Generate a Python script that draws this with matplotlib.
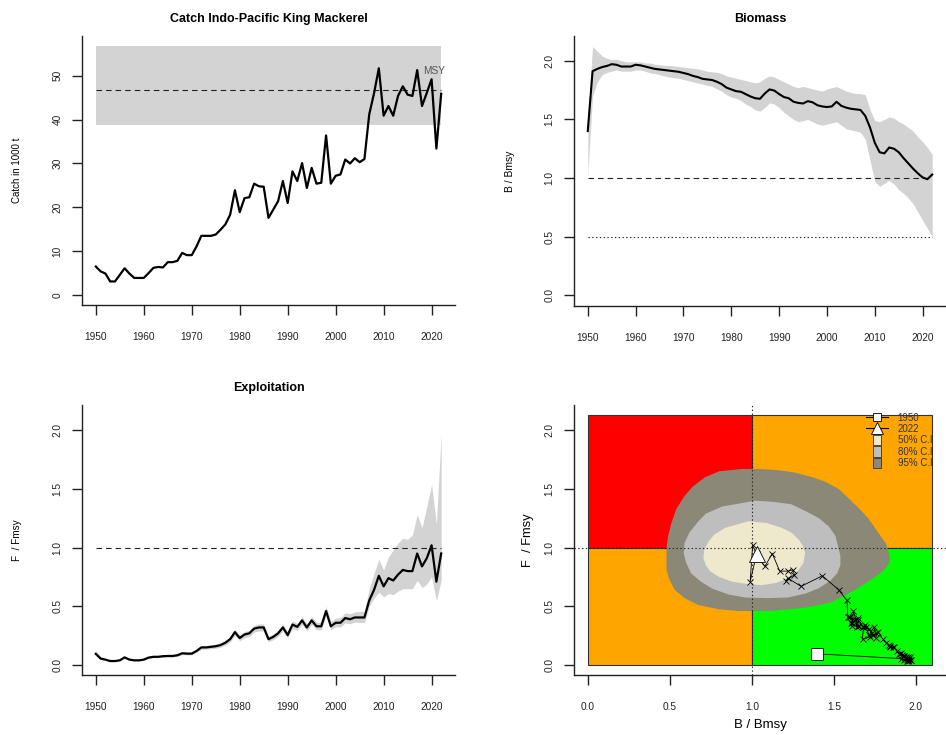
import matplotlib
matplotlib.use('Agg')
import matplotlib.pyplot as plt
from matplotlib.lines import Line2D
from matplotlib.patches import Patch, Rectangle
from matplotlib.legend_handler import HandlerPatch

plt.rcParams['font.family'] = ['Liberation Sans', 'DejaVu Sans']

# ---------------- data ----------------
years = list(range(1950, 2023))

catch = [6.5, 5.4, 4.9, 3.1, 3.1, 4.6, 6.1, 4.9, 3.9, 3.9,
         3.9, 5.0, 6.2, 6.4, 6.3, 7.5, 7.5, 7.8, 9.6, 9.1,
         9.1, 11.1, 13.5, 13.5, 13.5, 13.8, 14.9, 16.1, 18.3, 23.9,
         18.9, 22.1, 22.3, 25.4, 24.8, 24.7, 17.6, 19.5, 21.4, 26.0,
         21.0, 28.2, 26.0, 30.1, 24.4, 29.0, 25.4, 25.6, 36.4, 25.4,
         27.2, 27.5, 30.9, 30.0, 31.2, 30.3, 31.0, 41.2, 46.0, 51.7,
         40.9, 43.1, 40.9, 45.4, 47.6, 45.7, 45.4, 51.3, 43.1, 46.1,
         49.2, 33.4, 45.9]

msy = 46.8
msy_lo = 38.8
msy_hi = 56.8

bbmsy = [1.40, 1.91, 1.93, 1.945, 1.955, 1.97, 1.965, 1.95, 1.95, 1.95,
         1.965, 1.96, 1.95, 1.94, 1.93, 1.925, 1.92, 1.915, 1.91, 1.905,
         1.895, 1.885, 1.87, 1.86, 1.845, 1.84, 1.835, 1.82, 1.80, 1.77,
         1.755, 1.74, 1.735, 1.715, 1.695, 1.68, 1.675, 1.72, 1.755, 1.745,
         1.715, 1.69, 1.68, 1.65, 1.64, 1.635, 1.655, 1.645, 1.62, 1.61,
         1.605, 1.61, 1.65, 1.615, 1.60, 1.59, 1.585, 1.58, 1.53, 1.43,
         1.30, 1.22, 1.21, 1.26, 1.25, 1.22, 1.17, 1.125, 1.08, 1.04,
         1.005, 0.99, 1.03]

bbmsy_hi = [1.50, 2.12, 2.08, 2.04, 2.02, 2.01, 2.01, 2.00, 1.99, 1.99,
            1.99, 1.99, 1.98, 1.98, 1.97, 1.965, 1.96, 1.96, 1.955, 1.95,
            1.945, 1.94, 1.935, 1.93, 1.92, 1.91, 1.905, 1.90, 1.89, 1.87,
            1.86, 1.85, 1.84, 1.83, 1.82, 1.81, 1.82, 1.85, 1.87, 1.86,
            1.84, 1.82, 1.80, 1.78, 1.77, 1.78, 1.77, 1.76, 1.75, 1.74,
            1.76, 1.77, 1.78, 1.76, 1.74, 1.73, 1.72, 1.72, 1.71, 1.58,
            1.49, 1.48, 1.50, 1.52, 1.51, 1.48, 1.46, 1.43, 1.40, 1.35,
            1.31, 1.26, 1.20]

bbmsy_lo = [1.02, 1.70, 1.82, 1.88, 1.90, 1.91, 1.92, 1.91, 1.91, 1.91,
            1.92, 1.92, 1.91, 1.895, 1.89, 1.88, 1.87, 1.86, 1.855, 1.85,
            1.84, 1.83, 1.82, 1.81, 1.80, 1.79, 1.78, 1.76, 1.74, 1.71,
            1.69, 1.68, 1.66, 1.63, 1.61, 1.58, 1.57, 1.60, 1.64, 1.63,
            1.60, 1.56, 1.53, 1.50, 1.48, 1.49, 1.50, 1.48, 1.46, 1.45,
            1.46, 1.47, 1.48, 1.45, 1.42, 1.41, 1.40, 1.39, 1.33, 1.15,
            0.97, 0.93, 0.955, 0.98, 0.95, 0.90, 0.87, 0.83, 0.78, 0.71,
            0.64, 0.57, 0.50]

ffmsy = [0.095, 0.055, 0.046, 0.034, 0.034, 0.04, 0.065, 0.046, 0.04, 0.04,
         0.046, 0.063, 0.07, 0.07, 0.075, 0.077, 0.077, 0.083, 0.10, 0.097,
         0.097, 0.12, 0.15, 0.15, 0.155, 0.16, 0.17, 0.19, 0.22, 0.28,
         0.23, 0.26, 0.27, 0.31, 0.32, 0.32, 0.22, 0.24, 0.27, 0.32,
         0.255, 0.345, 0.325, 0.38, 0.32, 0.38, 0.33, 0.33, 0.46, 0.33,
         0.36, 0.36, 0.40, 0.39, 0.405, 0.405, 0.405, 0.55, 0.64, 0.76,
         0.67, 0.74, 0.72, 0.77, 0.81, 0.80, 0.80, 0.95, 0.84, 0.91,
         1.02, 0.71, 0.95]

ffmsy_hi = [0.125, 0.07, 0.056, 0.042, 0.042, 0.048, 0.075, 0.055, 0.048, 0.048,
            0.055, 0.072, 0.08, 0.08, 0.086, 0.088, 0.088, 0.095, 0.113, 0.11,
            0.11, 0.135, 0.166, 0.166, 0.172, 0.178, 0.19, 0.21, 0.243, 0.305,
            0.255, 0.285, 0.297, 0.338, 0.35, 0.35, 0.245, 0.265, 0.297, 0.35,
            0.282, 0.375, 0.355, 0.412, 0.352, 0.413, 0.363, 0.365, 0.50, 0.37,
            0.40, 0.405, 0.445, 0.437, 0.453, 0.455, 0.458, 0.65, 0.78, 0.90,
            0.81, 0.92, 0.98, 1.04, 1.08, 1.07, 1.11, 1.28, 1.17, 1.35,
            1.54, 1.20, 1.97]

ffmsy_lo = [0.08, 0.048, 0.040, 0.029, 0.029, 0.034, 0.058, 0.040, 0.035, 0.035,
            0.040, 0.056, 0.062, 0.062, 0.066, 0.068, 0.068, 0.074, 0.089, 0.086,
            0.086, 0.107, 0.135, 0.135, 0.139, 0.143, 0.152, 0.17, 0.197, 0.252,
            0.206, 0.234, 0.243, 0.28, 0.29, 0.29, 0.198, 0.216, 0.243, 0.29,
            0.23, 0.312, 0.294, 0.345, 0.29, 0.345, 0.30, 0.298, 0.42, 0.30,
            0.325, 0.325, 0.36, 0.352, 0.365, 0.363, 0.36, 0.50, 0.57, 0.62,
            0.58, 0.61, 0.60, 0.63, 0.65, 0.65, 0.65, 0.72, 0.66, 0.69,
            0.75, 0.55, 0.72]

# Kobe confidence-region boundaries (B/Bmsy, F/Fmsy)
ci95_b = [0.94, 0.80, 0.715, 0.64, 0.59, 0.54, 0.51, 0.49, 0.48, 0.48, 0.48, 0.50,
          0.53, 0.59, 0.675, 0.80, 0.92, 1.12, 1.33, 1.48, 1.63, 1.72, 1.80, 1.84,
          1.84, 1.82, 1.76, 1.71, 1.65, 1.53, 1.45, 1.37, 1.26, 1.16, 1.05]
ci95_f = [1.67, 1.65, 1.60, 1.52, 1.44, 1.33, 1.21, 1.10, 1.00, 0.90, 0.81, 0.72,
          0.64, 0.57, 0.51, 0.475, 0.46, 0.46, 0.49, 0.53, 0.64, 0.72, 0.80, 0.87,
          0.93, 1.03, 1.15, 1.25, 1.34, 1.50, 1.56, 1.60, 1.64, 1.66, 1.67]

ci80_b = [1.02, 0.82, 0.72, 0.675, 0.62, 0.59, 0.585, 0.60, 0.63, 0.69, 0.76, 0.86,
          0.96, 1.10, 1.22, 1.33, 1.41, 1.48, 1.52, 1.54, 1.54, 1.51, 1.47, 1.41,
          1.33, 1.24, 1.13]
ci80_f = [1.40, 1.35, 1.29, 1.225, 1.13, 1.04, 0.95, 0.87, 0.78, 0.71, 0.65, 0.60,
          0.575, 0.57, 0.575, 0.61, 0.655, 0.72, 0.78, 0.85, 0.93, 1.10, 1.18, 1.25,
          1.31, 1.37, 1.39]

ci50_b = [0.98, 0.84, 0.77, 0.735, 0.71, 0.705, 0.72, 0.745, 0.80, 0.88, 0.97, 1.06,
          1.15, 1.22, 1.28, 1.315, 1.325, 1.31, 1.285, 1.24, 1.18, 1.09]
ci50_f = [1.225, 1.17, 1.11, 1.05, 0.98, 0.91, 0.85, 0.80, 0.75, 0.71, 0.69, 0.68,
          0.70, 0.74, 0.80, 0.87, 0.955, 1.02, 1.07, 1.13, 1.17, 1.21]

kobe_bmax = 2.1
kobe_fmax = 2.13

# ---------------- figure ----------------
fig = plt.figure(figsize=(9.46, 7.35), dpi=100)
W, H = 946.0, 735.0


def add_ax(l, r, t, b):
    return fig.add_axes([l / W, (H - b) / H, (r - l) / W, (b - t) / H])


ax1 = add_ax(82, 455, 36, 305)
ax2 = add_ax(574, 946, 36, 306)
ax3 = add_ax(82, 455, 405, 675)
ax4 = add_ax(574, 946, 405, 675)

AXC = '#222222'


def style(ax):
    for s in ['top', 'right']:
        ax.spines[s].set_visible(False)
    for s in ['left', 'bottom']:
        ax.spines[s].set_linewidth(1.0)
        ax.spines[s].set_color(AXC)
    ax.tick_params(direction='out', length=7, width=1.0, colors=AXC, labelsize=7.3)
    ax.tick_params(axis='x', pad=12.5)
    ax.tick_params(axis='y', pad=7, labelrotation=90)
    for lab in ax.get_yticklabels():
        lab.set_va('center')


xlim_t = (1947.12, 2024.88)
yr_ticks = [1950, 1960, 1970, 1980, 1990, 2000, 2010, 2020]
dash = (0, (5, 3.6))
dots = (0, (1.2, 2.2))

# --- Catch ---
ax1.fill_between([years[0], years[-1]], [msy_lo, msy_lo], [msy_hi, msy_hi],
                 color='#D3D3D3', lw=0)
ax1.plot([years[0], years[-1]], [msy, msy], color='#222222', lw=0.8, linestyle=dash)
ax1.plot(years, catch, color='black', lw=1.6)
ax1.text(2020.5, 51.1, 'MSY', fontsize=7.3, color='#555555', ha='center', va='center')
ax1.set_xlim(*xlim_t)
ax1.set_ylim(-2.27, 59.07)
ax1.set_xticks(yr_ticks)
ax1.set_yticks([0, 10, 20, 30, 40, 50])
ax1.set_title('Catch Indo-Pacific King Mackerel', fontsize=9, fontweight='bold', pad=10.4)
ax1.set_ylabel('Catch in 1000 t', fontsize=7, va='center')
ax1.yaxis.set_label_coords(-0.174, 0.5)
style(ax1)

# --- Biomass ---
ax2.fill_between(years, bbmsy_lo, bbmsy_hi, color='#D3D3D3', lw=0)
ax2.plot([years[0], years[-1]], [1, 1], color='#222222', lw=0.8, linestyle=dash)
ax2.plot([years[0], years[-1]], [0.5, 0.5], color='#222222', lw=0.8, linestyle=dots)
ax2.plot(years, bbmsy, color='black', lw=1.5)
ax2.set_xlim(*xlim_t)
ax2.set_ylim(-0.09, 2.21)
ax2.set_xticks(yr_ticks)
ax2.set_yticks([0, 0.5, 1.0, 1.5, 2.0])
ax2.set_yticklabels(['0.0', '0.5', '1.0', '1.5', '2.0'])
ax2.set_title('Biomass', fontsize=9, fontweight='bold', pad=10.4)
ax2.set_ylabel('B / Bmsy', fontsize=7.4, va='center')
ax2.yaxis.set_label_coords(-0.172, 0.5)
style(ax2)

# --- Exploitation ---
ax3.fill_between(years, ffmsy_lo, ffmsy_hi, color='#D3D3D3', lw=0)
ax3.plot([years[0], years[-1]], [1, 1], color='#222222', lw=0.8, linestyle=dash)
ax3.plot(years, ffmsy, color='black', lw=1.6)
ax3.set_xlim(*xlim_t)
ax3.set_ylim(-0.085, 2.215)
ax3.set_xticks(yr_ticks)
ax3.set_yticks([0, 0.5, 1.0, 1.5, 2.0])
ax3.set_yticklabels(['0.0', '0.5', '1.0', '1.5', '2.0'])
ax3.set_title('Exploitation', fontsize=9, fontweight='bold', pad=10)
ax3.set_ylabel('F  / Fmsy', fontsize=7.2, va='center')
ax3.yaxis.set_label_coords(-0.174, 0.5)
style(ax3)

# --- Kobe ---
edge = '#333333'
ax4.add_patch(Rectangle((0, 1), 1, kobe_fmax - 1, facecolor='#FF0000', edgecolor=edge, lw=0.8))
ax4.add_patch(Rectangle((1, 1), kobe_bmax - 1, kobe_fmax - 1, facecolor='#FFA500', edgecolor=edge, lw=0.8))
ax4.add_patch(Rectangle((0, 0), 1, 1, facecolor='#FFA500', edgecolor=edge, lw=0.8))
ax4.add_patch(Rectangle((1, 0), kobe_bmax - 1, 1, facecolor='#00FF00', edgecolor=edge, lw=0.8))
ax4.fill(ci95_b, ci95_f, color='#8B8878', lw=0)
ax4.fill(ci80_b, ci80_f, color='#BEBEBE', lw=0)
ax4.fill(ci50_b, ci50_f, color='#EEE8CD', lw=0)
ax4.axhline(1, color='#222222', lw=0.8, linestyle=dots)
ax4.axvline(1, color='#222222', lw=0.8, linestyle=dots)
ax4.plot(bbmsy, ffmsy, color='black', lw=0.6, marker='x', ms=5, mew=0.6)
ax4.plot(bbmsy[0], ffmsy[0], marker='s', ms=8, mfc='white', mec='black', mew=0.6, ls='none')
ax4.plot(bbmsy[-1], ffmsy[-1], marker='^', ms=12, mfc='white', mec='black', mew=0.6, ls='none')
ax4.set_xlim(-0.084, 2.184)
ax4.set_ylim(-0.085, 2.215)
ax4.set_xticks([0, 0.5, 1.0, 1.5, 2.0])
ax4.set_xticklabels(['0.0', '0.5', '1.0', '1.5', '2.0'])
ax4.set_yticks([0, 0.5, 1.0, 1.5, 2.0])
ax4.set_yticklabels(['0.0', '0.5', '1.0', '1.5', '2.0'])
ax4.set_xlabel('B / Bmsy', fontsize=9.5, va='center')
ax4.xaxis.set_label_coords(0.5, -0.185)
ax4.set_ylabel('F  / Fmsy', fontsize=9.3, va='center')
ax4.yaxis.set_label_coords(-0.124, 0.5)
style(ax4)


def narrow_box(legend, orig_handle, xdescent, ydescent, width, height, fontsize):
    w = height * 0.95
    return Rectangle((-xdescent + width / 2 - w / 2, -ydescent - 0.12 * height), w, height * 1.24)


handles = [
    Line2D([], [], color='black', lw=0.8, marker='s', ms=6, mfc='white', mec='black', mew=0.6),
    Line2D([], [], color='black', lw=0.8, marker='^', ms=8, mfc='white', mec='black', mew=0.6),
    Patch(facecolor='#EEE8CD', edgecolor='#333333', lw=0.6),
    Patch(facecolor='#BEBEBE', edgecolor='#333333', lw=0.6),
    Patch(facecolor='#8B8878', edgecolor='#333333', lw=0.6),
]
labels = [str(years[0]), str(years[-1]), '50% C.I', '80% C.I', '95% C.I']
leg = ax4.legend(handles, labels, loc='upper right', bbox_to_anchor=(0.963, 0.972),
                 frameon=False, fontsize=7, handlelength=2.2, handleheight=0.95,
                 handletextpad=1.0, labelspacing=0.15, borderpad=0, borderaxespad=0,
                 handler_map={Patch: HandlerPatch(patch_func=narrow_box)})
for t in leg.get_texts():
    t.set_color('#333333')

fig.savefig('out.png', dpi=100)
